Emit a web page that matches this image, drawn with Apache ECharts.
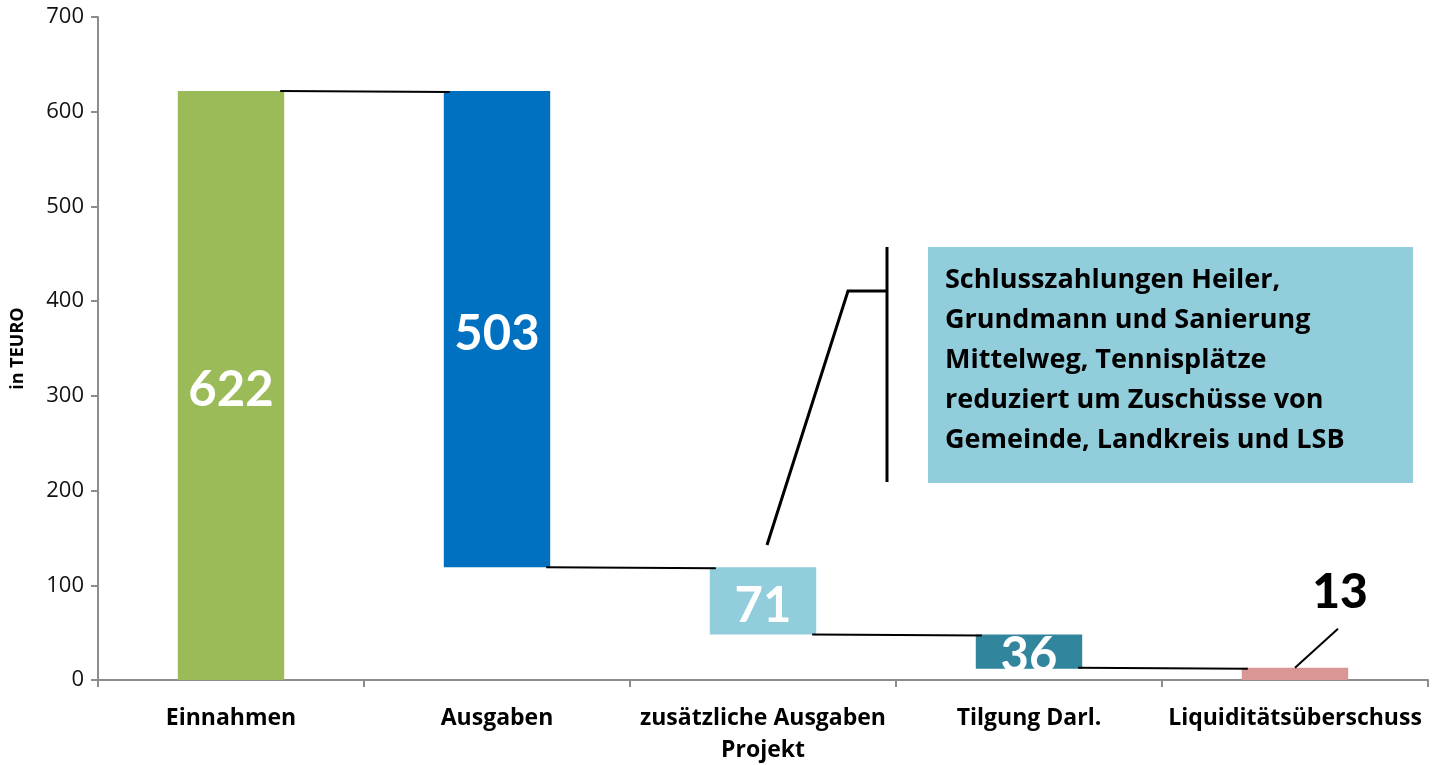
<!DOCTYPE html>
<html><head><meta charset="utf-8">
<script src="https://cdn.jsdelivr.net/npm/echarts@6/dist/echarts.min.js"></script>
<style>html,body{margin:0;padding:0;background:#fff}#c{width:1440px;height:765px}</style>
</head><body><div id="c"></div>
<script>
const categories = ['Einnahmen', 'Ausgaben', 'zusätzliche Ausgaben\nProjekt', 'Tilgung Darl.', 'Liquiditätsüberschuss'];
const baseValues = [0, 119, 48, 12, 0];
const barValues = [622, 503, 71, 36, 13];
const barColors = ['#9BBB59', '#0070C0', '#92CDDC', '#31859C', '#D99694'];
const yTicks = [0, 100, 200, 300, 400, 500, 600, 700];
const calloutText = 'Schlusszahlungen Heiler,\nGrundmann und Sanierung\nMittelweg, Tennisplätze\nreduziert um Zuschüsse von\nGemeinde, Landkreis und LSB';

const FONT = '"Open Sans", Lato, sans-serif';
const NUMFONT = 'Lato, "Open Sans", sans-serif';
// connector levels: top of the following bar
const connectors = [];
for (let i = 0; i < categories.length - 1; i++) {
  connectors.push([i, baseValues[i + 1] + barValues[i + 1]]);
}

const chart = echarts.init(document.getElementById('c'));
chart.setOption({
  animation: false,
  grid: { left: 98, right: 12, top: 17, bottom: 85, containLabel: false, outerBoundsMode: 'none' },
  xAxis: {
    type: 'category',
    data: categories,
    axisLine: { lineStyle: { color: '#8c8c8c', width: 2 } },
    axisTick: { show: true, length: 7, lineStyle: { color: '#8c8c8c', width: 2 } },
    axisLabel: { fontFamily: FONT, fontWeight: 'bold', fontSize: 23, color: '#000', margin: 22, lineHeight: 32, interval: 0 }
  },
  yAxis: {
    type: 'value',
    min: yTicks[0], max: yTicks[yTicks.length - 1], interval: 100,
    name: 'in TEURO', nameLocation: 'middle', nameGap: 71,
    nameTextStyle: { fontFamily: FONT, fontWeight: 'bold', fontSize: 18, color: '#000' },
    axisLine: { show: true, lineStyle: { color: '#8c8c8c', width: 2 } },
    axisTick: { show: true, length: 7, lineStyle: { color: '#8c8c8c', width: 2 } },
    splitLine: { show: false },
    axisLabel: { fontFamily: FONT, fontSize: 22, color: '#111', margin: 14 }
  },
  series: [
    {
      type: 'bar', stack: 'w', barWidth: '40%',
      itemStyle: { color: 'transparent' },
      data: baseValues, silent: true
    },
    {
      type: 'bar', stack: 'w', barWidth: '40%',
      data: barValues.map((v, i) => {
        const o = { value: v, itemStyle: { color: barColors[i] } };
        if (i === barValues.length - 1) {
          o.label = { show: true, position: 'top', offset: [45, -46], color: '#000', fontSize: 48, fontWeight: 900, fontFamily: NUMFONT };
        }
        return o;
      }),
      label: { show: true, position: 'inside', offset: [0, 5], color: '#fff', fontSize: 49, fontWeight: 'bold', fontFamily: NUMFONT }
    },
    {
      type: 'custom',
      data: connectors,
      z: 5,
      renderItem: function (params, api) {
        const i = api.value(0), lvl = api.value(1);
        const band = api.size([1, 0])[0];
        const half = band * 0.2;
        const p1 = api.coord([i, lvl]);
        const p2 = api.coord([i + 1, lvl]);
        return {
          type: 'line',
          shape: { x1: p1[0] + half - 4, y1: p1[1], x2: p2[0] - half + 6, y2: p2[1] + 1 },
          style: { stroke: '#000', lineWidth: 2 }
        };
      }
    }
  ]
});

// annotations
const last = barValues.length - 1;
const pTop = chart.convertToPixel({ seriesIndex: 1 }, [last, baseValues[last] + barValues[last]]);
chart.setOption({
  graphic: [
    { type: 'line', shape: { x1: pTop[0], y1: pTop[1], x2: pTop[0] + 43, y2: pTop[1] - 39 }, style: { stroke: '#000', lineWidth: 2 }, z: 10 },
    { type: 'rect', shape: { x: 928, y: 247, width: 485, height: 236 }, style: { fill: '#92CDDC' }, z: 10 },
    { type: 'text', x: 945, y: 260, style: { text: calloutText, font: 'bold 27px ' + FONT, fill: '#000', lineHeight: 40 }, z: 11 },
    { type: 'line', shape: { x1: 887, y1: 247, x2: 887, y2: 482 }, style: { stroke: '#000', lineWidth: 3 }, z: 10 },
    { type: 'polyline', shape: { points: [[887, 291], [848, 291], [767, 545]] }, style: { stroke: '#000', lineWidth: 3, fill: null }, z: 10 }
  ]
});
</script></body></html>
